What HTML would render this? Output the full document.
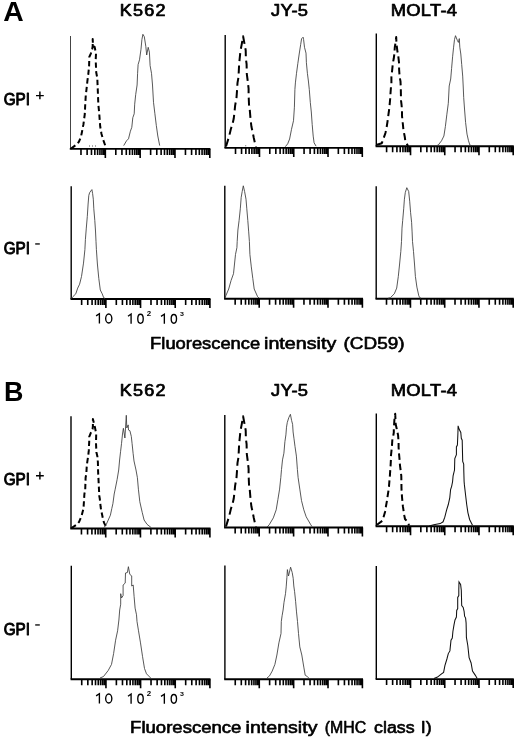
<!DOCTYPE html>
<html><head><meta charset="utf-8"><style>
html,body{margin:0;padding:0;background:#fff;}
body{width:520px;height:738px;overflow:hidden;}
svg{display:block;font-family:"Liberation Sans", sans-serif;will-change:transform;}
</style></head><body>
<svg width="520" height="738" viewBox="0 0 520 738">
<rect width="520" height="738" fill="#fff"/>
<line x1="70.5" y1="36.0" x2="70.5" y2="148.9" stroke="#444" stroke-width="1.0"/>
<line x1="69.8" y1="148.9" x2="210.4" y2="148.9" stroke="#000" stroke-width="1.9"/>
<path d="M80.98 148.9v6.0M87.12 148.9v6.0M91.47 148.9v6.0M94.84 148.9v6.0M97.60 148.9v6.0M99.93 148.9v6.0M101.95 148.9v6.0M103.73 148.9v6.0M105.33 148.9v9.0M115.81 148.9v6.0M121.94 148.9v6.0M126.29 148.9v6.0M129.67 148.9v6.0M132.42 148.9v6.0M134.76 148.9v6.0M136.78 148.9v6.0M138.56 148.9v6.0M140.15 148.9v9.0M150.63 148.9v6.0M156.77 148.9v6.0M161.12 148.9v6.0M164.49 148.9v6.0M167.25 148.9v6.0M169.58 148.9v6.0M171.60 148.9v6.0M173.38 148.9v6.0M174.98 148.9v9.0M185.46 148.9v6.0M191.59 148.9v6.0M195.94 148.9v6.0M199.32 148.9v6.0M202.07 148.9v6.0M204.41 148.9v6.0M206.43 148.9v6.0M208.21 148.9v6.0M209.80 148.9v9.0" stroke="#000" stroke-width="1.6" fill="none"/>
<line x1="225.2" y1="35.0" x2="225.2" y2="147.9" stroke="#000" stroke-width="1.4"/>
<line x1="224.5" y1="147.9" x2="362.9" y2="147.9" stroke="#000" stroke-width="1.9"/>
<path d="M235.52 147.9v6.0M241.55 147.9v6.0M245.84 147.9v6.0M249.16 147.9v6.0M251.87 147.9v6.0M254.17 147.9v6.0M256.15 147.9v6.0M257.91 147.9v6.0M259.48 147.9v9.0M269.79 147.9v6.0M275.83 147.9v6.0M280.11 147.9v6.0M283.43 147.9v6.0M286.15 147.9v6.0M288.44 147.9v6.0M290.43 147.9v6.0M292.18 147.9v6.0M293.75 147.9v9.0M304.07 147.9v6.0M310.10 147.9v6.0M314.39 147.9v6.0M317.71 147.9v6.0M320.42 147.9v6.0M322.72 147.9v6.0M324.70 147.9v6.0M326.46 147.9v6.0M328.02 147.9v9.0M338.34 147.9v6.0M344.38 147.9v6.0M348.66 147.9v6.0M351.98 147.9v6.0M354.70 147.9v6.0M356.99 147.9v6.0M358.98 147.9v6.0M360.73 147.9v6.0M362.30 147.9v9.0" stroke="#000" stroke-width="1.6" fill="none"/>
<line x1="376.3" y1="33.5" x2="376.3" y2="146.3" stroke="#000" stroke-width="1.4"/>
<line x1="375.6" y1="146.3" x2="513.8" y2="146.3" stroke="#000" stroke-width="1.9"/>
<path d="M386.60 146.3v6.0M392.63 146.3v6.0M396.91 146.3v6.0M400.22 146.3v6.0M402.93 146.3v6.0M405.22 146.3v6.0M407.21 146.3v6.0M408.96 146.3v6.0M410.53 146.3v9.0M420.83 146.3v6.0M426.85 146.3v6.0M431.13 146.3v6.0M434.45 146.3v6.0M437.16 146.3v6.0M439.45 146.3v6.0M441.43 146.3v6.0M443.18 146.3v6.0M444.75 146.3v9.0M455.05 146.3v6.0M461.08 146.3v6.0M465.36 146.3v6.0M468.67 146.3v6.0M471.38 146.3v6.0M473.67 146.3v6.0M475.66 146.3v6.0M477.41 146.3v6.0M478.98 146.3v9.0M489.28 146.3v6.0M495.30 146.3v6.0M499.58 146.3v6.0M502.90 146.3v6.0M505.61 146.3v6.0M507.90 146.3v6.0M509.88 146.3v6.0M511.63 146.3v6.0M513.20 146.3v9.0" stroke="#000" stroke-width="1.6" fill="none"/>
<line x1="71.2" y1="186.2" x2="71.2" y2="299.0" stroke="#000" stroke-width="1.4"/>
<line x1="70.5" y1="299.0" x2="210.5" y2="299.0" stroke="#000" stroke-width="1.9"/>
<path d="M81.64 299.0v6.0M87.74 299.0v6.0M92.08 299.0v6.0M95.44 299.0v6.0M98.18 299.0v6.0M100.50 299.0v6.0M102.51 299.0v6.0M104.29 299.0v6.0M105.88 299.0v9.0M116.31 299.0v6.0M122.42 299.0v6.0M126.75 299.0v6.0M130.11 299.0v6.0M132.86 299.0v6.0M135.18 299.0v6.0M137.19 299.0v6.0M138.96 299.0v6.0M140.55 299.0v9.0M150.99 299.0v6.0M157.09 299.0v6.0M161.43 299.0v6.0M164.79 299.0v6.0M167.53 299.0v6.0M169.85 299.0v6.0M171.86 299.0v6.0M173.64 299.0v6.0M175.22 299.0v9.0M185.66 299.0v6.0M191.77 299.0v6.0M196.10 299.0v6.0M199.46 299.0v6.0M202.21 299.0v6.0M204.53 299.0v6.0M206.54 299.0v6.0M208.31 299.0v6.0M209.90 299.0v9.0" stroke="#000" stroke-width="1.6" fill="none"/>
<line x1="224.8" y1="185.8" x2="224.8" y2="298.8" stroke="#000" stroke-width="1.4"/>
<line x1="224.1" y1="298.8" x2="363.0" y2="298.8" stroke="#000" stroke-width="1.9"/>
<path d="M235.16 298.8v6.0M241.21 298.8v6.0M245.51 298.8v6.0M248.84 298.8v6.0M251.57 298.8v6.0M253.87 298.8v6.0M255.87 298.8v6.0M257.63 298.8v6.0M259.20 298.8v9.0M269.56 298.8v6.0M275.61 298.8v6.0M279.91 298.8v6.0M283.24 298.8v6.0M285.97 298.8v6.0M288.27 298.8v6.0M290.27 298.8v6.0M292.03 298.8v6.0M293.60 298.8v9.0M303.96 298.8v6.0M310.01 298.8v6.0M314.31 298.8v6.0M317.64 298.8v6.0M320.37 298.8v6.0M322.67 298.8v6.0M324.67 298.8v6.0M326.43 298.8v6.0M328.00 298.8v9.0M338.36 298.8v6.0M344.41 298.8v6.0M348.71 298.8v6.0M352.04 298.8v6.0M354.77 298.8v6.0M357.07 298.8v6.0M359.07 298.8v6.0M360.83 298.8v6.0M362.40 298.8v9.0" stroke="#000" stroke-width="1.6" fill="none"/>
<line x1="376.2" y1="186.2" x2="376.2" y2="298.8" stroke="#000" stroke-width="1.4"/>
<line x1="375.5" y1="298.8" x2="513.8" y2="298.8" stroke="#000" stroke-width="1.9"/>
<path d="M386.51 298.8v6.0M392.54 298.8v6.0M396.82 298.8v6.0M400.14 298.8v6.0M402.85 298.8v6.0M405.14 298.8v6.0M407.13 298.8v6.0M408.88 298.8v6.0M410.45 298.8v9.0M420.76 298.8v6.0M426.79 298.8v6.0M431.07 298.8v6.0M434.39 298.8v6.0M437.10 298.8v6.0M439.39 298.8v6.0M441.38 298.8v6.0M443.13 298.8v6.0M444.70 298.8v9.0M455.01 298.8v6.0M461.04 298.8v6.0M465.32 298.8v6.0M468.64 298.8v6.0M471.35 298.8v6.0M473.64 298.8v6.0M475.63 298.8v6.0M477.38 298.8v6.0M478.95 298.8v9.0M489.26 298.8v6.0M495.29 298.8v6.0M499.57 298.8v6.0M502.89 298.8v6.0M505.60 298.8v6.0M507.89 298.8v6.0M509.88 298.8v6.0M511.63 298.8v6.0M513.20 298.8v9.0" stroke="#000" stroke-width="1.6" fill="none"/>
<line x1="71.0" y1="416.2" x2="71.0" y2="528.5" stroke="#000" stroke-width="1.4"/>
<line x1="70.3" y1="528.5" x2="210.5" y2="528.5" stroke="#000" stroke-width="1.9"/>
<path d="M81.45 528.5v6.0M87.57 528.5v6.0M91.91 528.5v6.0M95.27 528.5v6.0M98.02 528.5v6.0M100.35 528.5v6.0M102.36 528.5v6.0M104.14 528.5v6.0M105.72 528.5v9.0M116.18 528.5v6.0M122.29 528.5v6.0M126.63 528.5v6.0M130.00 528.5v6.0M132.75 528.5v6.0M135.07 528.5v6.0M137.08 528.5v6.0M138.86 528.5v6.0M140.45 528.5v9.0M150.90 528.5v6.0M157.02 528.5v6.0M161.36 528.5v6.0M164.72 528.5v6.0M167.47 528.5v6.0M169.80 528.5v6.0M171.81 528.5v6.0M173.59 528.5v6.0M175.18 528.5v9.0M185.63 528.5v6.0M191.74 528.5v6.0M196.08 528.5v6.0M199.45 528.5v6.0M202.20 528.5v6.0M204.52 528.5v6.0M206.53 528.5v6.0M208.31 528.5v6.0M209.90 528.5v9.0" stroke="#000" stroke-width="1.6" fill="none"/>
<line x1="224.8" y1="415.0" x2="224.8" y2="527.5" stroke="#000" stroke-width="1.4"/>
<line x1="224.1" y1="527.5" x2="363.0" y2="527.5" stroke="#000" stroke-width="1.9"/>
<path d="M235.16 527.5v6.0M241.21 527.5v6.0M245.51 527.5v6.0M248.84 527.5v6.0M251.57 527.5v6.0M253.87 527.5v6.0M255.87 527.5v6.0M257.63 527.5v6.0M259.20 527.5v9.0M269.56 527.5v6.0M275.61 527.5v6.0M279.91 527.5v6.0M283.24 527.5v6.0M285.97 527.5v6.0M288.27 527.5v6.0M290.27 527.5v6.0M292.03 527.5v6.0M293.60 527.5v9.0M303.96 527.5v6.0M310.01 527.5v6.0M314.31 527.5v6.0M317.64 527.5v6.0M320.37 527.5v6.0M322.67 527.5v6.0M324.67 527.5v6.0M326.43 527.5v6.0M328.00 527.5v9.0M338.36 527.5v6.0M344.41 527.5v6.0M348.71 527.5v6.0M352.04 527.5v6.0M354.77 527.5v6.0M357.07 527.5v6.0M359.07 527.5v6.0M360.83 527.5v6.0M362.40 527.5v9.0" stroke="#000" stroke-width="1.6" fill="none"/>
<line x1="376.3" y1="413.5" x2="376.3" y2="526.3" stroke="#000" stroke-width="1.4"/>
<line x1="375.6" y1="526.3" x2="513.8" y2="526.3" stroke="#000" stroke-width="1.9"/>
<path d="M386.60 526.3v6.0M392.63 526.3v6.0M396.91 526.3v6.0M400.22 526.3v6.0M402.93 526.3v6.0M405.22 526.3v6.0M407.21 526.3v6.0M408.96 526.3v6.0M410.53 526.3v9.0M420.83 526.3v6.0M426.85 526.3v6.0M431.13 526.3v6.0M434.45 526.3v6.0M437.16 526.3v6.0M439.45 526.3v6.0M441.43 526.3v6.0M443.18 526.3v6.0M444.75 526.3v9.0M455.05 526.3v6.0M461.08 526.3v6.0M465.36 526.3v6.0M468.67 526.3v6.0M471.38 526.3v6.0M473.67 526.3v6.0M475.66 526.3v6.0M477.41 526.3v6.0M478.98 526.3v9.0M489.28 526.3v6.0M495.30 526.3v6.0M499.58 526.3v6.0M502.90 526.3v6.0M505.61 526.3v6.0M507.90 526.3v6.0M509.88 526.3v6.0M511.63 526.3v6.0M513.20 526.3v9.0" stroke="#000" stroke-width="1.6" fill="none"/>
<line x1="71.3" y1="565.8" x2="71.3" y2="679.2" stroke="#000" stroke-width="1.4"/>
<line x1="70.6" y1="679.2" x2="210.5" y2="679.2" stroke="#000" stroke-width="1.9"/>
<path d="M81.73 679.2v6.0M87.83 679.2v6.0M92.16 679.2v6.0M95.52 679.2v6.0M98.26 679.2v6.0M100.58 679.2v6.0M102.59 679.2v6.0M104.36 679.2v6.0M105.95 679.2v9.0M116.38 679.2v6.0M122.48 679.2v6.0M126.81 679.2v6.0M130.17 679.2v6.0M132.91 679.2v6.0M135.23 679.2v6.0M137.24 679.2v6.0M139.01 679.2v6.0M140.60 679.2v9.0M151.03 679.2v6.0M157.13 679.2v6.0M161.46 679.2v6.0M164.82 679.2v6.0M167.56 679.2v6.0M169.88 679.2v6.0M171.89 679.2v6.0M173.66 679.2v6.0M175.25 679.2v9.0M185.68 679.2v6.0M191.78 679.2v6.0M196.11 679.2v6.0M199.47 679.2v6.0M202.21 679.2v6.0M204.53 679.2v6.0M206.54 679.2v6.0M208.31 679.2v6.0M209.90 679.2v9.0" stroke="#000" stroke-width="1.6" fill="none"/>
<line x1="224.9" y1="565.6" x2="224.9" y2="679.2" stroke="#000" stroke-width="1.4"/>
<line x1="224.2" y1="679.2" x2="363.0" y2="679.2" stroke="#000" stroke-width="1.9"/>
<path d="M235.25 679.2v6.0M241.30 679.2v6.0M245.60 679.2v6.0M248.93 679.2v6.0M251.65 679.2v6.0M253.95 679.2v6.0M255.94 679.2v6.0M257.70 679.2v6.0M259.27 679.2v9.0M269.62 679.2v6.0M275.68 679.2v6.0M279.97 679.2v6.0M283.30 679.2v6.0M286.02 679.2v6.0M288.33 679.2v6.0M290.32 679.2v6.0M292.08 679.2v6.0M293.65 679.2v9.0M304.00 679.2v6.0M310.05 679.2v6.0M314.35 679.2v6.0M317.68 679.2v6.0M320.40 679.2v6.0M322.70 679.2v6.0M324.69 679.2v6.0M326.45 679.2v6.0M328.02 679.2v9.0M338.37 679.2v6.0M344.43 679.2v6.0M348.72 679.2v6.0M352.05 679.2v6.0M354.77 679.2v6.0M357.08 679.2v6.0M359.07 679.2v6.0M360.83 679.2v6.0M362.40 679.2v9.0" stroke="#000" stroke-width="1.6" fill="none"/>
<line x1="376.3" y1="565.9" x2="376.3" y2="679.1" stroke="#000" stroke-width="1.4"/>
<line x1="375.6" y1="679.1" x2="513.8" y2="679.1" stroke="#000" stroke-width="1.9"/>
<path d="M386.60 679.1v6.0M392.63 679.1v6.0M396.91 679.1v6.0M400.22 679.1v6.0M402.93 679.1v6.0M405.22 679.1v6.0M407.21 679.1v6.0M408.96 679.1v6.0M410.53 679.1v9.0M420.83 679.1v6.0M426.85 679.1v6.0M431.13 679.1v6.0M434.45 679.1v6.0M437.16 679.1v6.0M439.45 679.1v6.0M441.43 679.1v6.0M443.18 679.1v6.0M444.75 679.1v9.0M455.05 679.1v6.0M461.08 679.1v6.0M465.36 679.1v6.0M468.67 679.1v6.0M471.38 679.1v6.0M473.67 679.1v6.0M475.66 679.1v6.0M477.41 679.1v6.0M478.98 679.1v9.0M489.28 679.1v6.0M495.30 679.1v6.0M499.58 679.1v6.0M502.90 679.1v6.0M505.61 679.1v6.0M507.90 679.1v6.0M509.88 679.1v6.0M511.63 679.1v6.0M513.20 679.1v9.0" stroke="#000" stroke-width="1.6" fill="none"/>
<polyline points="71.0,148.6 77.6,143.8 79.1,141.4 81.0,136.6 81.9,132.2 83.4,124.5 84.8,114.0 85.2,105.0 85.8,95.0 86.5,89.4 87.4,81.0 88.3,74.2 89.1,66.0 89.3,57.0 90.8,53.6 92.2,49.2 92.7,46.0 92.7,39.1 93.0,45.9 94.6,46.8 96.0,53.6 95.7,60.0 96.2,72.3 97.3,78.0 97.7,88.0 98.3,104.0 99.2,113.0 100.2,126.5 101.5,134.0 103.6,140.9 106.5,149.1" stroke="#000" stroke-width="2" fill="none" stroke-linejoin="round" stroke-dasharray="5.4 3.3" stroke-dashoffset="0"/>
<polyline points="226.0,146.5 229.3,135.6 230.8,129.3 232.7,123.1 233.7,118.8 234.6,111.1 235.1,105.8 236.5,97.6 237.0,90.9 237.5,82.9 238.5,77.1 238.9,68.9 239.2,63.2 239.9,56.4 240.4,51.2 241.8,43.9 243.1,36.3 244.7,44.9 245.7,50.2 245.9,58.8 246.6,64.1 246.8,73.8 247.6,80.0 248.6,88.7 248.6,94.7 249.0,104.3 249.8,110.1 250.5,118.8 251.4,126.5 252.9,133.2 253.8,138.0 255.3,144.7 256.0,147.0" stroke="#000" stroke-width="2" fill="none" stroke-linejoin="round" stroke-dasharray="8 4.4" stroke-dashoffset="0"/>
<polyline points="377.0,144.7 381.8,143.2 382.7,140.8 385.4,133.1 386.4,128.8 387.5,121.6 388.0,117.7 389.0,110.5 389.5,106.2 390.2,98.5 390.4,94.7 390.9,87.9 391.4,83.3 391.4,77.0 391.9,72.7 392.5,66.9 392.8,63.6 393.8,58.3 394.3,54.4 394.8,47.2 395.2,44.8 396.2,37.1 396.5,44.0 396.7,45.3 397.3,50.6 398.3,56.4 399.1,63.6 399.1,69.3 399.6,76.6 400.5,81.4 400.8,88.1 401.0,100.4 401.5,104.3 402.0,110.0 402.0,115.8 402.9,124.5 403.4,129.8 404.8,137.0 405.3,140.8 407.3,144.7 408.0,146.0" stroke="#000" stroke-width="2" fill="none" stroke-linejoin="round" stroke-dasharray="7 4" stroke-dashoffset="0"/>
<polyline points="71.4,528.2 77.2,524.3 79.1,521.9 81.5,516.2 83.5,508.5 84.4,494.0 85.2,490.2 85.6,477.7 86.3,473.8 86.5,470.6 86.8,465.3 87.3,461.9 88.3,455.2 88.8,450.4 89.0,445.6 89.2,441.7 89.2,436.9 90.7,433.1 92.6,429.2 92.9,425.9 92.9,419.1 94.8,426.8 96.2,433.6 96.0,443.2 96.4,452.3 97.4,456.6 97.9,462.4 98.1,471.5 98.4,477.7 99.3,496.0 99.8,498.8 100.6,506.5 101.0,509.4 103.2,520.0 104.1,522.9 106.1,526.7 106.5,528.0" stroke="#000" stroke-width="2" fill="none" stroke-linejoin="round" stroke-dasharray="5.4 3.3" stroke-dashoffset="0"/>
<polyline points="226.0,526.5 229.3,515.6 230.8,509.3 232.7,503.1 233.7,498.8 234.6,491.1 235.1,485.8 236.5,477.6 237.0,470.9 237.5,462.9 238.5,457.1 238.9,448.9 239.2,443.2 239.9,436.4 240.4,431.2 241.8,423.9 243.1,416.3 244.7,424.9 245.7,430.2 245.9,438.8 246.6,444.1 246.8,453.8 247.6,460.0 248.6,468.7 248.6,474.7 249.0,484.3 249.8,490.1 250.5,498.8 251.4,506.5 252.9,513.2 253.8,518.0 255.3,524.7 256.0,527.0" stroke="#000" stroke-width="2" fill="none" stroke-linejoin="round" stroke-dasharray="8 4.4" stroke-dashoffset="0"/>
<polyline points="377.0,524.7 382.3,520.8 383.2,518.4 385.1,511.7 385.6,508.3 386.8,501.6 387.5,496.8 388.5,490.5 389.0,486.2 389.5,479.9 389.9,475.6 390.4,467.9 390.6,465.7 390.9,459.9 390.9,456.1 391.4,451.3 391.9,446.5 392.3,440.2 393.1,436.8 393.8,432.5 393.8,429.2 394.3,421.5 394.5,418.6 395.2,413.8 395.5,420.0 395.7,424.3 396.7,428.7 398.1,435.4 398.6,443.1 398.6,447.4 399.1,454.6 399.6,459.9 400.0,465.7 400.6,470.0 401.3,476.0 401.5,489.0 402.0,497.0 402.9,506.4 404.4,516.0 405.0,519.0 408.2,522.7 409.0,525.5" stroke="#000" stroke-width="2" fill="none" stroke-linejoin="round" stroke-dasharray="6.5 3.8" stroke-dashoffset="0"/>
<polyline points="123.7,145.6 126.5,140.8 128.5,138.8 130.4,131.2 131.8,127.3 132.8,117.7 134.2,113.8 134.7,104.2 135.7,94.6 137.1,85.0 137.6,73.3 138.1,64.6 139.5,59.8 141.0,49.2 141.9,39.6 142.9,34.3 144.3,36.7 145.8,46.3 146.7,55.0 148.2,47.3 149.4,52.1 150.1,65.6 151.5,73.3 152.5,85.0 153.5,102.3 154.9,113.8 156.3,125.4 157.8,136.0 159.7,145.6" stroke="#3a3a3a" stroke-width="0.85" fill="none" stroke-linejoin="round"/>
<polyline points="285.3,146.7 287.7,143.8 289.6,139.0 291.5,129.3 293.5,120.7 294.4,107.2 294.9,89.6 295.4,82.9 296.5,73.3 297.8,63.7 299.2,54.0 300.7,44.4 301.6,38.7 303.1,37.2 303.6,39.6 304.5,47.3 306.0,53.1 306.4,62.7 307.4,73.3 308.4,81.0 309.3,89.6 310.3,102.4 311.3,112.0 312.2,124.5 313.2,136.1 314.1,142.8 316.1,146.2" stroke="#3a3a3a" stroke-width="0.85" fill="none" stroke-linejoin="round"/>
<polyline points="435.0,146.0 438.2,145.1 441.5,140.8 443.9,136.0 445.4,126.4 446.8,114.8 448.3,103.3 449.2,86.0 450.7,79.0 451.6,68.4 452.6,56.8 453.6,47.2 454.5,39.5 455.5,35.7 457.4,40.5 458.4,42.4 459.3,38.6 459.8,47.2 460.8,54.0 461.7,64.5 462.7,76.1 463.2,86.0 463.7,97.5 464.6,110.0 465.6,122.5 467.0,134.1 468.5,140.8 469.9,145.1 472.0,146.0" stroke="#3a3a3a" stroke-width="0.85" fill="none" stroke-linejoin="round"/>
<polyline points="71.5,298.5 72.9,296.7 75.8,293.8 77.7,288.1 79.6,284.2 81.5,276.5 83.5,263.1 84.9,249.6 85.4,239.6 86.3,228.1 87.3,216.5 88.1,204.0 88.8,195.4 89.7,192.5 91.9,189.6 92.6,193.5 93.3,199.2 93.8,208.8 94.8,220.4 95.5,231.0 96.0,241.5 96.4,249.6 97.4,264.0 98.8,278.5 100.3,290.0 102.2,293.8 103.7,297.7 105.0,298.5" stroke="#3a3a3a" stroke-width="0.85" fill="none" stroke-linejoin="round"/>
<polyline points="225.3,297.5 225.8,295.8 228.7,289.0 231.1,280.4 233.5,273.7 234.5,264.0 235.5,254.4 236.9,247.7 237.2,241.5 237.9,230.0 239.1,220.4 240.3,208.8 241.2,197.3 242.2,191.5 243.3,185.8 244.6,191.5 246.0,199.2 246.8,208.8 247.8,220.4 248.7,231.9 249.4,241.5 249.9,254.4 251.3,266.9 252.8,278.5 254.2,289.0 257.6,296.7 259.0,298.0" stroke="#3a3a3a" stroke-width="0.85" fill="none" stroke-linejoin="round"/>
<polyline points="388.0,298.3 390.4,297.7 394.3,293.8 396.7,288.1 398.3,276.5 399.6,264.0 400.8,251.5 401.5,241.5 402.0,228.1 402.7,220.4 403.7,208.8 404.4,199.2 405.3,192.5 406.8,187.7 408.7,191.5 409.7,201.2 410.6,212.7 411.6,222.3 412.1,231.9 412.5,241.5 413.5,251.5 414.5,264.0 415.4,276.5 416.9,287.1 418.8,295.8 419.8,297.7 421.0,298.3" stroke="#3a3a3a" stroke-width="0.85" fill="none" stroke-linejoin="round"/>
<polyline points="104.0,527.5 106.1,524.8 110.4,515.2 111.8,508.5 112.9,503.7 114.2,494.0 115.2,489.2 117.1,479.6 118.7,470.0 119.6,460.0 120.6,451.3 121.5,443.7 122.5,434.0 123.4,428.3 124.9,438.0 126.3,415.3 126.8,428.0 128.2,424.9 128.5,430.0 129.9,430.7 131.3,436.4 132.1,443.7 133.1,453.3 134.0,461.0 136.0,470.0 137.4,477.7 138.4,489.2 139.8,501.7 142.2,512.3 144.1,520.0 147.0,524.3 151.3,527.7" stroke="#3a3a3a" stroke-width="0.85" fill="none" stroke-linejoin="round"/>
<polyline points="267.0,527.0 269.2,524.8 273.3,517.9 276.2,509.8 277.9,499.5 279.6,489.1 280.8,477.5 281.5,469.5 282.5,459.9 283.9,453.2 284.9,441.7 285.9,434.9 286.5,427.2 287.3,422.4 288.8,417.6 290.4,414.3 291.6,420.5 292.6,424.3 293.1,432.0 294.0,438.8 295.0,446.5 296.4,456.1 297.4,469.5 298.1,477.5 299.8,489.1 301.5,500.6 303.8,509.8 306.2,516.8 310.8,524.8 312.0,526.5" stroke="#3a3a3a" stroke-width="0.85" fill="none" stroke-linejoin="round"/>
<polyline points="100.0,678.0 103.5,676.5 108.2,670.5 111.5,664.4 113.6,653.6 115.6,640.2 117.6,630.8 118.9,620.0 119.7,610.0 120.7,604.2 120.7,593.7 121.5,598.0 123.1,595.6 123.1,585.0 125.2,583.1 125.5,573.0 127.4,572.5 128.4,566.7 129.8,574.4 131.7,575.9 131.7,586.0 133.2,585.0 134.1,596.5 135.1,608.1 136.5,614.8 137.0,621.5 138.5,630.8 140.5,642.9 142.5,656.3 144.5,668.5 146.5,673.8 149.9,677.2 151.0,678.3" stroke="#3a3a3a" stroke-width="0.85" fill="none" stroke-linejoin="round"/>
<polyline points="267.0,678.0 269.5,675.9 272.2,671.1 274.9,664.4 276.9,655.0 278.9,642.9 281.0,633.5 281.3,621.5 282.1,615.8 283.1,610.0 284.0,602.3 285.5,593.7 286.2,586.9 286.9,577.3 287.4,569.6 288.5,576.0 290.6,567.2 292.2,572.5 293.2,578.3 293.8,586.0 294.6,591.7 295.6,601.3 296.5,611.9 297.5,621.5 298.5,633.5 299.8,646.9 301.8,655.0 303.8,667.1 305.2,675.2 307.2,676.5 309.0,678.3" stroke="#3a3a3a" stroke-width="0.85" fill="none" stroke-linejoin="round"/>
<polyline points="429.2,525.9 433.8,524.7 440.2,523.6 443.1,521.8 444.8,517.2 446.5,510.3 448.3,504.5 449.8,497.6 450.6,489.5 451.7,486.1 452.6,481.5 452.9,478.0 453.1,475.8 454.5,470.0 454.8,458.5 456.4,454.6 456.4,446.9 457.4,445.0 457.9,433.5 458.1,425.8 459.3,429.6 460.8,432.5 461.3,438.3 462.2,440.2 462.7,461.3 463.7,464.2 463.8,471.0 464.1,481.5 464.4,484.9 465.6,495.3 466.7,504.5 467.9,512.6 469.6,519.5 472.5,525.3" stroke="#111" stroke-width="1.05" fill="none" stroke-linejoin="miter"/>
<polyline points="434.0,678.5 437.5,677.1 440.9,674.4 443.6,672.4 444.9,665.7 446.9,659.0 448.3,653.6 449.9,650.9 451.0,640.1 452.3,638.1 452.9,631.5 454.0,624.8 455.0,620.0 456.4,617.1 456.7,610.4 457.7,608.5 457.7,597.4 458.8,595.5 458.8,589.2 459.0,582.0 460.6,584.4 461.3,590.2 461.7,605.6 463.2,607.5 464.1,611.3 464.6,616.2 465.6,618.1 466.1,622.9 466.3,631.5 466.4,637.4 467.8,645.5 469.1,657.6 471.1,663.0 472.5,671.1 475.2,675.1 477.2,678.5" stroke="#111" stroke-width="1.05" fill="none" stroke-linejoin="miter"/>
<rect x="89.0" y="145.3" width="1" height="1.4" fill="#888"/>
<rect x="92.0" y="145.3" width="1" height="1.4" fill="#888"/>
<rect x="95.0" y="145.3" width="1" height="1.4" fill="#888"/>
<rect x="245.2" y="145.0" width="1" height="1.4" fill="#888"/>
<text x="3.29" y="20.80" font-size="27.25" font-weight="bold" textLength="20.48" lengthAdjust="spacingAndGlyphs" fill="#000" >A</text>
<text x="4.05" y="400.80" font-size="27.39" font-weight="bold" textLength="19.42" lengthAdjust="spacingAndGlyphs" fill="#000" >B</text>
<text transform="matrix(1.1200 0 0 1 119.82 15.74)" x="0" y="0" font-size="16.11" font-weight="normal" textLength="40.93" lengthAdjust="spacing" fill="#000" stroke="#000" stroke-width="0.72" stroke-linejoin="round" >K562</text>
<text transform="matrix(1.1200 0 0 1 271.09 15.74)" x="0" y="0" font-size="16.35" font-weight="normal" textLength="32.93" lengthAdjust="spacing" fill="#000" stroke="#000" stroke-width="0.72" stroke-linejoin="round" >JY-5</text>
<text transform="matrix(1.1200 0 0 1 390.79 15.74)" x="0" y="0" font-size="16.40" font-weight="normal" textLength="59.15" lengthAdjust="spacing" fill="#000" stroke="#000" stroke-width="0.72" stroke-linejoin="round" >MOLT-4</text>
<text transform="matrix(1.1200 0 0 1 119.82 395.74)" x="0" y="0" font-size="16.11" font-weight="normal" textLength="40.93" lengthAdjust="spacing" fill="#000" stroke="#000" stroke-width="0.72" stroke-linejoin="round" >K562</text>
<text transform="matrix(1.1200 0 0 1 271.09 395.74)" x="0" y="0" font-size="16.35" font-weight="normal" textLength="32.93" lengthAdjust="spacing" fill="#000" stroke="#000" stroke-width="0.72" stroke-linejoin="round" >JY-5</text>
<text transform="matrix(1.1200 0 0 1 390.79 395.74)" x="0" y="0" font-size="16.40" font-weight="normal" textLength="59.15" lengthAdjust="spacing" fill="#000" stroke="#000" stroke-width="0.72" stroke-linejoin="round" >MOLT-4</text>
<text x="3.69" y="105.10" font-size="15.79" font-weight="normal" textLength="26.28" lengthAdjust="spacingAndGlyphs" fill="#000" stroke="#000" stroke-width="0.90" stroke-linejoin="round" >GPI</text>
<path d="M36.0 95.6h7.8M39.9 91.6v7.6" stroke="#000" stroke-width="1.45"/>
<text x="3.69" y="254.10" font-size="15.79" font-weight="normal" textLength="26.28" lengthAdjust="spacingAndGlyphs" fill="#000" stroke="#000" stroke-width="0.90" stroke-linejoin="round" >GPI</text>
<rect x="35.2" y="243.3" width="4.6" height="1.3" fill="#000"/>
<text x="3.69" y="485.30" font-size="15.79" font-weight="normal" textLength="26.28" lengthAdjust="spacingAndGlyphs" fill="#000" stroke="#000" stroke-width="0.90" stroke-linejoin="round" >GPI</text>
<path d="M36.0 475.8h7.8M39.9 471.8v7.6" stroke="#000" stroke-width="1.45"/>
<text x="3.69" y="635.10" font-size="15.79" font-weight="normal" textLength="26.28" lengthAdjust="spacingAndGlyphs" fill="#000" stroke="#000" stroke-width="0.90" stroke-linejoin="round" >GPI</text>
<rect x="35.2" y="624.3" width="4.6" height="1.3" fill="#000"/>
<path d="M96.10 315.90L99.40 313.80V323.50" stroke="#000" stroke-width="1.35" fill="none" stroke-linejoin="miter"/>
<ellipse cx="108.75" cy="318.50" rx="3.08" ry="4.52" stroke="#000" stroke-width="1.35" fill="none"/>
<path d="M128.00 316.30L131.10 314.00V323.75" stroke="#000" stroke-width="1.35" fill="none" stroke-linejoin="miter"/>
<ellipse cx="140.50" cy="318.80" rx="2.73" ry="4.52" stroke="#000" stroke-width="1.35" fill="none"/>
<path d="M161.00 316.40L164.35 314.30V323.70" stroke="#000" stroke-width="1.35" fill="none" stroke-linejoin="miter"/>
<ellipse cx="173.85" cy="318.85" rx="2.67" ry="4.37" stroke="#000" stroke-width="1.35" fill="none"/>
<text x="146.72" y="315.70" font-size="6.43" font-weight="bold" textLength="4.40" lengthAdjust="spacingAndGlyphs" fill="#000" >2</text>
<text x="179.92" y="315.60" font-size="5.57" font-weight="bold" textLength="3.93" lengthAdjust="spacingAndGlyphs" fill="#000" >3</text>
<path d="M96.10 695.90L99.40 693.80V703.50" stroke="#000" stroke-width="1.35" fill="none" stroke-linejoin="miter"/>
<ellipse cx="108.75" cy="698.50" rx="3.08" ry="4.52" stroke="#000" stroke-width="1.35" fill="none"/>
<path d="M128.00 696.30L131.10 694.00V703.75" stroke="#000" stroke-width="1.35" fill="none" stroke-linejoin="miter"/>
<ellipse cx="140.50" cy="698.80" rx="2.73" ry="4.52" stroke="#000" stroke-width="1.35" fill="none"/>
<path d="M161.00 696.40L164.35 694.30V703.70" stroke="#000" stroke-width="1.35" fill="none" stroke-linejoin="miter"/>
<ellipse cx="173.85" cy="698.85" rx="2.67" ry="4.37" stroke="#000" stroke-width="1.35" fill="none"/>
<text x="146.72" y="695.70" font-size="6.43" font-weight="bold" textLength="4.40" lengthAdjust="spacingAndGlyphs" fill="#000" >2</text>
<text x="179.92" y="695.60" font-size="5.57" font-weight="bold" textLength="3.93" lengthAdjust="spacingAndGlyphs" fill="#000" >3</text>
<text x="150.13" y="349.30" font-size="15.84" font-weight="normal" textLength="110.05" lengthAdjust="spacingAndGlyphs" fill="#000" stroke="#000" stroke-width="0.60" stroke-linejoin="round" >Fluorescence</text>
<text x="264.02" y="349.30" font-size="15.84" font-weight="normal" textLength="72.25" lengthAdjust="spacingAndGlyphs" fill="#000" stroke="#000" stroke-width="0.60" stroke-linejoin="round" >intensity</text>
<text x="343.56" y="349.30" font-size="15.84" font-weight="normal" textLength="61.03" lengthAdjust="spacingAndGlyphs" fill="#000" stroke="#000" stroke-width="0.60" stroke-linejoin="round" >(CD59)</text>
<text x="130.12" y="732.60" font-size="15.84" font-weight="normal" textLength="111.27" lengthAdjust="spacingAndGlyphs" fill="#000" stroke="#000" stroke-width="0.60" stroke-linejoin="round" >Fluorescence</text>
<text x="245.63" y="732.60" font-size="15.84" font-weight="normal" textLength="71.84" lengthAdjust="spacingAndGlyphs" fill="#000" stroke="#000" stroke-width="0.60" stroke-linejoin="round" >intensity</text>
<text x="324.75" y="732.60" font-size="15.84" font-weight="normal" textLength="41.39" lengthAdjust="spacingAndGlyphs" fill="#000" stroke="#000" stroke-width="0.60" stroke-linejoin="round" >(MHC</text>
<text x="374.10" y="732.60" font-size="15.84" font-weight="normal" textLength="40.60" lengthAdjust="spacingAndGlyphs" fill="#000" stroke="#000" stroke-width="0.60" stroke-linejoin="round" >class</text>
<text x="420.80" y="732.60" font-size="15.84" font-weight="normal" textLength="10.89" lengthAdjust="spacingAndGlyphs" fill="#000" stroke="#000" stroke-width="0.60" stroke-linejoin="round" >I)</text>
</svg>
</body></html>
